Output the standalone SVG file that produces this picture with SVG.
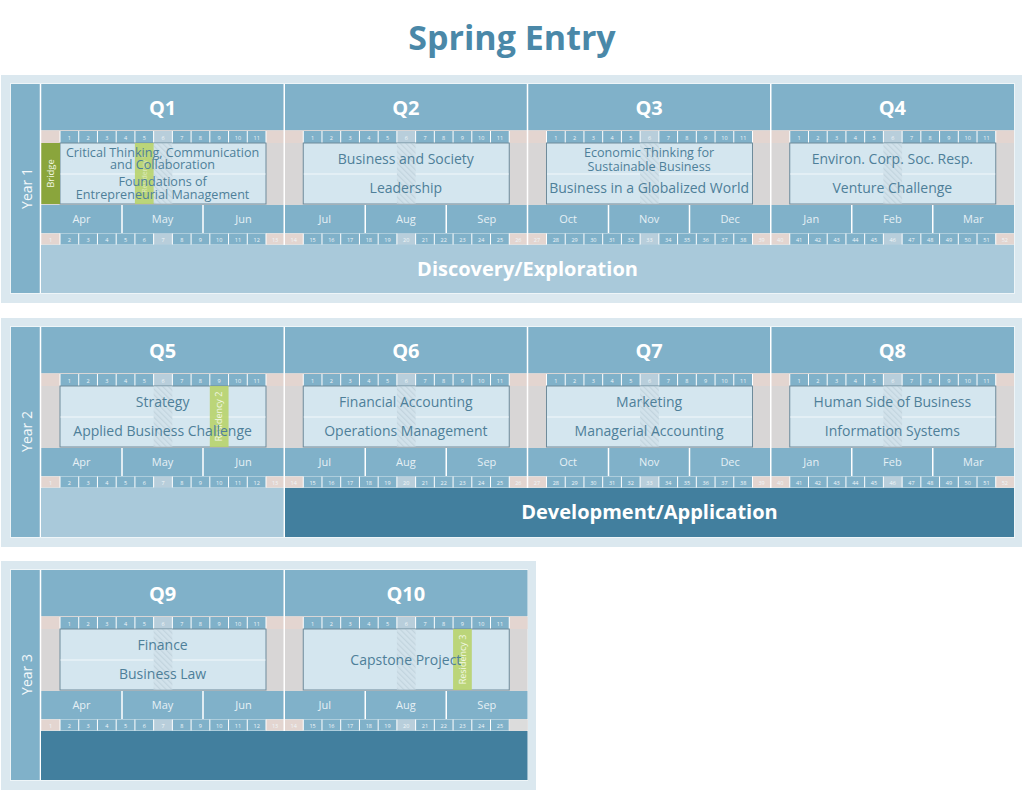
<svg xmlns="http://www.w3.org/2000/svg" xmlns:xlink="http://www.w3.org/1999/xlink" width="1024" height="793" viewBox="0 0 1024 793">
<style>
.panel{fill:#dbe8ef}
.blue{fill:#80b1c9}
.grey{fill:#d8d6d6}
.edge{fill:#e3d5d0}
.box{fill:#d4e6ef;stroke:#6e8b9b;stroke-width:1}
.div{stroke:#f2f8fb;stroke-width:1.2}
.sep{stroke:#ffffff;stroke-width:1.5}
.res{fill:#b8d36b;opacity:0.9}
.ct{font-family:"Open Sans","Noto Sans",sans-serif;font-size:14px;fill:#4e7f99;text-anchor:middle}
.cs{font-size:12.6px}
.qt{font-family:"Open Sans","Noto Sans",sans-serif;font-weight:bold;font-size:20px;fill:#ffffff;text-anchor:middle}
.mt{font-family:"Open Sans","Noto Sans",sans-serif;font-size:11px;fill:#e6f0f5;text-anchor:middle}
.wn{font-family:"Open Sans","Noto Sans",sans-serif;font-size:5.5px;fill:#f0f6f9;text-anchor:middle}
.yt{font-family:"Open Sans","Noto Sans",sans-serif;font-size:14px;fill:#f4f8fa;text-anchor:middle}
.pt{font-family:"Open Sans","Noto Sans",sans-serif;font-weight:bold;font-size:20px;fill:#ffffff;text-anchor:middle}
.rt{font-family:"Open Sans","Noto Sans",sans-serif;font-size:9px;fill:#f3f8e6;text-anchor:middle}
.title{font-family:"Open Sans","Noto Sans",sans-serif;font-weight:bold;font-size:34px;fill:#4a88a8;text-anchor:middle}
</style>
<defs>
<pattern id="hatch" width="4" height="4" patternUnits="userSpaceOnUse" patternTransform="rotate(-45)">
<rect width="4" height="4" fill="#d2e2eb"/><rect width="1.2" height="4" fill="#c2d4de"/>
</pattern>
<g id="tw">
<rect x="0" y="0" width="19" height="12" class="edge"/>
<rect x="225" y="0" width="18.25" height="12" class="edge"/>
<rect x="19" y="0" width="206" height="12" class="blue"/>
<rect x="112.64" y="0" width="18.73" height="12" fill="#b8cedb"/>
<path d="M19 0V12M37.73 0V12M56.45 0V12M75.18 0V12M93.91 0V12M112.64 0V12M131.36 0V12M150.09 0V12M168.82 0V12M187.55 0V12M206.27 0V12M225 0V12" stroke="#ffffff" stroke-width="1"/>
<text class="wn" y="8.5"><tspan x="28.36">1</tspan><tspan x="47.09">2</tspan><tspan x="65.82">3</tspan><tspan x="84.55">4</tspan><tspan x="103.27">5</tspan><tspan x="122">6</tspan><tspan x="140.73">7</tspan><tspan x="159.45">8</tspan><tspan x="178.18">9</tspan><tspan x="196.91">10</tspan><tspan x="215.64">11</tspan></text>
</g>
<g id="bw">
<rect x="0" y="0" width="19" height="11" class="edge"/>
<rect x="225" y="0" width="18.25" height="11" class="edge"/>
<rect x="19" y="0" width="206" height="11" class="blue"/>
<rect x="112.64" y="0" width="18.73" height="11" fill="#b8cedb"/>
<path d="M19 0V11M37.73 0V11M56.45 0V11M75.18 0V11M93.91 0V11M112.64 0V11M131.36 0V11M150.09 0V11M168.82 0V11M187.55 0V11M206.27 0V11M225 0V11" stroke="#ffffff" stroke-width="1"/>
</g>
<g id="qbase">
<rect x="0" y="84" width="243.25" height="46" class="blue"/>
<rect x="0" y="130" width="243.25" height="75" class="grey"/>
<use xlink:href="#tw" href="#tw" y="131"/>
<rect x="19" y="143" width="206" height="61" class="box"/>
<rect x="0" y="205" width="243.25" height="28" class="blue"/>
<path d="M81 205V233M162 205V233" stroke="#ffffff" stroke-width="1.5"/>
<use xlink:href="#bw" href="#bw" y="233.5"/>
</g>
<rect id="hc" x="112.64" y="143.5" width="18.73" height="60" fill="url(#hatch)"/>
<text id="bn1" class="wn" y="8"><tspan x="9.5">1</tspan><tspan x="28.36">2</tspan><tspan x="47.09">3</tspan><tspan x="65.82">4</tspan><tspan x="84.55">5</tspan><tspan x="103.27">6</tspan><tspan x="122">7</tspan><tspan x="140.73">8</tspan><tspan x="159.45">9</tspan><tspan x="178.18">10</tspan><tspan x="196.91">11</tspan><tspan x="215.64">12</tspan><tspan x="234.1">13</tspan></text>
<text id="bn2" class="wn" y="8"><tspan x="9.5">14</tspan><tspan x="28.36">15</tspan><tspan x="47.09">16</tspan><tspan x="65.82">17</tspan><tspan x="84.55">18</tspan><tspan x="103.27">19</tspan><tspan x="122">20</tspan><tspan x="140.73">21</tspan><tspan x="159.45">22</tspan><tspan x="178.18">23</tspan><tspan x="196.91">24</tspan><tspan x="215.64">25</tspan></text>
<text id="bn26" class="wn" y="8" x="234.1">26</text>
<text id="bn3" class="wn" y="8"><tspan x="9.5">27</tspan><tspan x="28.36">28</tspan><tspan x="47.09">29</tspan><tspan x="65.82">30</tspan><tspan x="84.55">31</tspan><tspan x="103.27">32</tspan><tspan x="122">33</tspan><tspan x="140.73">34</tspan><tspan x="159.45">35</tspan><tspan x="178.18">36</tspan><tspan x="196.91">37</tspan><tspan x="215.64">38</tspan><tspan x="234.1">39</tspan></text>
<text id="bn4" class="wn" y="8"><tspan x="9.5">40</tspan><tspan x="28.36">41</tspan><tspan x="47.09">42</tspan><tspan x="65.82">43</tspan><tspan x="84.55">44</tspan><tspan x="103.27">45</tspan><tspan x="122">46</tspan><tspan x="140.73">47</tspan><tspan x="159.45">48</tspan><tspan x="178.18">49</tspan><tspan x="196.91">50</tspan><tspan x="215.64">51</tspan><tspan x="234.1">52</tspan></text>
</defs>
<rect width="1024" height="793" fill="#ffffff"/>
<text id="title" class="title" x="512" y="50">Spring Entry</text>

<g id="connectors"></g>

<!-- YEAR 1 -->
<g id="year1">
<rect x="1" y="75" width="1021" height="228" class="panel"/>
<rect x="10.5" y="83.5" width="1004" height="210" fill="none" stroke="#eef5f8"/>
<rect x="11" y="84" width="29.5" height="209" class="blue"/>
<text class="yt" transform="translate(31.5,188.5) rotate(-90)">Year 1</text>
<g id="q1" transform="translate(41,0)">
<use xlink:href="#qbase" href="#qbase"/>
<line x1="19.5" y1="174" x2="224.5" y2="174" class="div"/>
<use xlink:href="#hc" href="#hc"/>
<rect x="0" y="143" width="19" height="61" fill="#8aa53c"/>
<text class="rt" style="font-size:9.5px" transform="translate(12.8,173.5) rotate(-90)">Bridge</text>
<rect x="93.91" y="143" width="18.73" height="61" class="res"/>
<text class="rt" style="font-size:7px;opacity:0.6" transform="translate(105.5,173.5) rotate(-90)">Residency 1</text>
<text class="qt" x="121.6" y="114.5">Q1</text>
<text class="ct cs" x="121.6" y="156.5">Critical Thinking, Communication</text>
<text class="ct cs" x="121.6" y="169">and Collaboration</text>
<text class="ct cs" x="121.6" y="186">Foundations of</text>
<text class="ct cs" x="121.6" y="199">Entrepreneurial Management</text>
<text class="mt" x="40.5" y="222.5">Apr</text><text class="mt" x="121.6" y="222.5">May</text><text class="mt" x="202.6" y="222.5">Jun</text>
<use xlink:href="#bn1" href="#bn1" y="233.5"/>
</g>
<g id="q2" transform="translate(284.25,0)">
<use xlink:href="#qbase" href="#qbase"/>
<line x1="19.5" y1="174" x2="224.5" y2="174" class="div"/>
<use xlink:href="#hc" href="#hc"/>
<text class="qt" x="121.6" y="114.5">Q2</text>
<text class="ct" x="121.6" y="164">Business and Society</text>
<text class="ct" x="121.6" y="193">Leadership</text>
<text class="mt" x="40.5" y="222.5">Jul</text><text class="mt" x="121.6" y="222.5">Aug</text><text class="mt" x="202.6" y="222.5">Sep</text>
<use xlink:href="#bn2" href="#bn2" y="233.5"/><use xlink:href="#bn26" href="#bn26" y="233.5"/>
</g>
<g id="q3" transform="translate(527.5,0)">
<use xlink:href="#qbase" href="#qbase"/>
<line x1="19.5" y1="174" x2="224.5" y2="174" class="div"/>
<use xlink:href="#hc" href="#hc"/>
<text class="qt" x="121.6" y="114.5">Q3</text>
<text class="ct cs" x="121.6" y="157">Economic Thinking for</text>
<text class="ct cs" x="121.6" y="170.5">Sustainable Business</text>
<text class="ct" x="121.6" y="193">Business in a Globalized World</text>
<text class="mt" x="40.5" y="222.5">Oct</text><text class="mt" x="121.6" y="222.5">Nov</text><text class="mt" x="202.6" y="222.5">Dec</text>
<use xlink:href="#bn3" href="#bn3" y="233.5"/>
</g>
<g id="q4" transform="translate(770.75,0)">
<use xlink:href="#qbase" href="#qbase"/>
<line x1="19.5" y1="174" x2="224.5" y2="174" class="div"/>
<use xlink:href="#hc" href="#hc"/>
<text class="qt" x="121.6" y="114.5">Q4</text>
<text class="ct" x="121.6" y="164">Environ. Corp. Soc. Resp.</text>
<text class="ct" x="121.6" y="193">Venture Challenge</text>
<text class="mt" x="40.5" y="222.5">Jan</text><text class="mt" x="121.6" y="222.5">Feb</text><text class="mt" x="202.6" y="222.5">Mar</text>
<use xlink:href="#bn4" href="#bn4" y="233.5"/>
</g>
<path d="M40.5 84V293M284.25 84V245M527.5 84V245M770.75 84V245" class="sep"/>
<rect x="41" y="245" width="973" height="48" fill="#a9c9da"/>
<text class="pt" x="527.5" y="275.5">Discovery/Exploration</text>
</g>

<!-- YEAR 2 -->
<g id="year2" transform="translate(0,243)">
<rect x="1" y="75" width="1021" height="229" class="panel"/>
<rect x="10.5" y="83.5" width="1004" height="211" fill="none" stroke="#eef5f8"/>
<rect x="11" y="84" width="29.5" height="210" class="blue"/>
<text class="yt" transform="translate(31.5,188.5) rotate(-90)">Year 2</text>
<g id="q5" transform="translate(41,0)">
<use xlink:href="#qbase" href="#qbase"/>
<line x1="19.5" y1="174" x2="224.5" y2="174" class="div"/>
<use xlink:href="#hc" href="#hc"/>
<rect x="168.82" y="143" width="18.73" height="61" class="res"/>
<text class="rt" transform="translate(181.3,173.5) rotate(-90)">Residency 2</text>
<text class="qt" x="121.6" y="114.5">Q5</text>
<text class="ct" x="121.6" y="164">Strategy</text>
<text class="ct" x="121.6" y="193">Applied Business Challenge</text>
<text class="mt" x="40.5" y="222.5">Apr</text><text class="mt" x="121.6" y="222.5">May</text><text class="mt" x="202.6" y="222.5">Jun</text>
<use xlink:href="#bn1" href="#bn1" y="233.5"/>
</g>
<g id="q6" transform="translate(284.25,0)">
<use xlink:href="#qbase" href="#qbase"/>
<line x1="19.5" y1="174" x2="224.5" y2="174" class="div"/>
<use xlink:href="#hc" href="#hc"/>
<text class="qt" x="121.6" y="114.5">Q6</text>
<text class="ct" x="121.6" y="164">Financial Accounting</text>
<text class="ct" x="121.6" y="193">Operations Management</text>
<text class="mt" x="40.5" y="222.5">Jul</text><text class="mt" x="121.6" y="222.5">Aug</text><text class="mt" x="202.6" y="222.5">Sep</text>
<use xlink:href="#bn2" href="#bn2" y="233.5"/><use xlink:href="#bn26" href="#bn26" y="233.5"/>
</g>
<g id="q7" transform="translate(527.5,0)">
<use xlink:href="#qbase" href="#qbase"/>
<line x1="19.5" y1="174" x2="224.5" y2="174" class="div"/>
<use xlink:href="#hc" href="#hc"/>
<text class="qt" x="121.6" y="114.5">Q7</text>
<text class="ct" x="121.6" y="164">Marketing</text>
<text class="ct" x="121.6" y="193">Managerial Accounting</text>
<text class="mt" x="40.5" y="222.5">Oct</text><text class="mt" x="121.6" y="222.5">Nov</text><text class="mt" x="202.6" y="222.5">Dec</text>
<use xlink:href="#bn3" href="#bn3" y="233.5"/>
</g>
<g id="q8" transform="translate(770.75,0)">
<use xlink:href="#qbase" href="#qbase"/>
<line x1="19.5" y1="174" x2="224.5" y2="174" class="div"/>
<use xlink:href="#hc" href="#hc"/>
<text class="qt" x="121.6" y="114.5">Q8</text>
<text class="ct" x="121.6" y="164">Human Side of Business</text>
<text class="ct" x="121.6" y="193">Information Systems</text>
<text class="mt" x="40.5" y="222.5">Jan</text><text class="mt" x="121.6" y="222.5">Feb</text><text class="mt" x="202.6" y="222.5">Mar</text>
<use xlink:href="#bn4" href="#bn4" y="233.5"/>
</g>
<path d="M40.5 84V294M284.25 84V294M527.5 84V245M770.75 84V245" class="sep"/>
<rect x="41" y="245" width="242.5" height="49" fill="#a9c9da"/>
<rect x="285" y="245" width="729" height="49" fill="#427f9e"/>
<text class="pt" x="649.5" y="276">Development/Application</text>
</g>

<!-- YEAR 3 -->
<g id="year3" transform="translate(0,486)">
<rect x="1" y="75" width="535" height="229" class="panel"/>
<rect x="10.5" y="83.5" width="517" height="211" fill="none" stroke="#eef5f8"/>
<rect x="11" y="84" width="29.5" height="210" class="blue"/>
<text class="yt" transform="translate(31.5,188.5) rotate(-90)">Year 3</text>
<g id="q9" transform="translate(41,0)">
<use xlink:href="#qbase" href="#qbase"/>
<line x1="19.5" y1="174" x2="224.5" y2="174" class="div"/>
<use xlink:href="#hc" href="#hc"/>
<text class="qt" x="121.6" y="114.5">Q9</text>
<text class="ct" x="121.6" y="164">Finance</text>
<text class="ct" x="121.6" y="193">Business Law</text>
<text class="mt" x="40.5" y="222.5">Apr</text><text class="mt" x="121.6" y="222.5">May</text><text class="mt" x="202.6" y="222.5">Jun</text>
<use xlink:href="#bn1" href="#bn1" y="233.5"/>
</g>
<g id="q10" transform="translate(284.25,0)">
<use xlink:href="#qbase" href="#qbase"/>
<use xlink:href="#hc" href="#hc"/>
<rect x="168.82" y="143" width="18.73" height="61" class="res"/>
<text class="rt" transform="translate(181.3,173.5) rotate(-90)">Residency 3</text>
<text class="qt" x="121.6" y="114.5">Q10</text>
<text class="ct" x="121.6" y="179">Capstone Project</text>
<text class="mt" x="40.5" y="222.5">Jul</text><text class="mt" x="121.6" y="222.5">Aug</text><text class="mt" x="202.6" y="222.5">Sep</text>
<rect x="225" y="233.5" width="18.25" height="11" fill="#dcdcdc"/>
<use xlink:href="#bn2" href="#bn2" y="233.5"/>
</g>
<path d="M40.5 84V294M284.25 84V245" class="sep"/>
<rect x="41" y="245" width="486.5" height="49" fill="#427f9e"/>
</g>
</svg>
